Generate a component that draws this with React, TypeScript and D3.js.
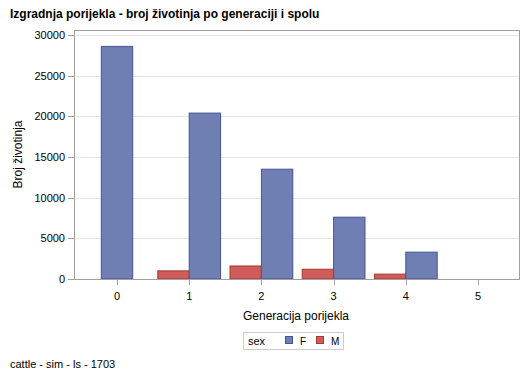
import React from "react";
import * as d3 from "d3";

const generations = ["0", "1", "2", "3", "4", "5"];
const femaleCounts = [28600, 20400, 13500, 7600, 3300, 0];
const maleCounts = [0, 1000, 1600, 1200, 600, 0];
const yTicks = [0, 5000, 10000, 15000, 20000, 25000, 30000];

const W = 529;
const H = 378;
const frame = { left: 74, right: 520, top: 30, bottom: 279 };
const font = "'Liberation Sans', Arial, sans-serif";

const F_FILL = "#6F7EB3";
const F_STROKE = "#445694";
const M_FILL = "#D05B5B";
const M_STROKE = "#A23A2E";

export default function App() {
  const x = d3.scalePoint<string>().domain(generations).range([117, 478]);
  const y = d3.scaleLinear().domain([0, 30000]).range([frame.bottom, 35]);
  const bw = 31.4;

  const bars: React.ReactNode[] = [];
  generations.forEach((g, i) => {
    const cx = x(g)!;
    const f = femaleCounts[i];
    const m = maleCounts[i];
    const hasF = f > 0;
    const hasM = m > 0;
    if (hasF && hasM) {
      bars.push(
        <rect key={"m" + g} x={cx - bw} y={y(m)} width={bw} height={y(0) - y(m)} fill={M_FILL} stroke={M_STROKE} strokeWidth={1} />
      );
      bars.push(
        <rect key={"f" + g} x={cx} y={y(f)} width={bw} height={y(0) - y(f)} fill={F_FILL} stroke={F_STROKE} strokeWidth={1} />
      );
    } else if (hasF) {
      bars.push(
        <rect key={"f" + g} x={cx - bw / 2} y={y(f)} width={bw} height={y(0) - y(f)} fill={F_FILL} stroke={F_STROKE} strokeWidth={1} />
      );
    } else if (hasM) {
      bars.push(
        <rect key={"m" + g} x={cx - bw / 2} y={y(m)} width={bw} height={y(0) - y(m)} fill={M_FILL} stroke={M_STROKE} strokeWidth={1} />
      );
    }
  });

  return (
    <svg width={W} height={H} style={{ position: "absolute", left: 0, top: 0 }} fontFamily={font}>
      <rect x={0} y={0} width={W} height={H} fill="#fff" />
      <text x={10} y={18} fontSize={12} fontWeight="bold" fill="#000">
        Izgradnja porijekla - broj životinja po generaciji i spolu
      </text>
      {/* gridlines */}
      {yTicks.filter((t) => t > 0).map((t) => (
        <line key={"g" + t} x1={frame.left} x2={frame.right} y1={Math.round(y(t)) + 0.5} y2={Math.round(y(t)) + 0.5} stroke="#E4E4E4" strokeWidth={1} />
      ))}
      {/* frame */}
      <rect x={frame.left + 0.5} y={frame.top + 0.5} width={frame.right - frame.left - 1} height={frame.bottom - frame.top} fill="none" stroke="#A0A0A0" strokeWidth={1} />
      {bars}
      {/* x axis line */}
      <line x1={68} x2={frame.right} y1={frame.bottom + 0.5} y2={frame.bottom + 0.5} stroke="#A0A0A0" />
      {/* y ticks */}
      {yTicks.map((t) => (
        <g key={"yt" + t}>
          <line x1={68} x2={frame.left} y1={Math.round(y(t)) + 0.5} y2={Math.round(y(t)) + 0.5} stroke="#A0A0A0" />
          <text x={65} y={y(t) + 4} fontSize={11} textAnchor="end" fill="#000">
            {t}
          </text>
        </g>
      ))}
      {/* x ticks */}
      {generations.map((g) => (
        <g key={"xt" + g}>
          <line x1={Math.round(x(g)!) + 0.5} x2={Math.round(x(g)!) + 0.5} y1={frame.bottom} y2={frame.bottom + 6} stroke="#A0A0A0" />
          <text x={x(g)!} y={frame.bottom + 21} fontSize={11} textAnchor="middle" fill="#000">
            {g}
          </text>
        </g>
      ))}
      <text x={296} y={320} fontSize={12} textAnchor="middle" fill="#000">
        Generacija porijekla
      </text>
      <text transform={`translate(22,${(frame.top + frame.bottom) / 2}) rotate(-90)`} fontSize={12} textAnchor="middle" fill="#000">
        Broj životinja
      </text>
      {/* legend */}
      <rect x={243.5} y={332.5} width={100} height={17} fill="#fff" stroke="#CCCCCC" />
      <text x={248} y={345} fontSize={11} fill="#000">sex</text>
      <rect x={285.5} y={336.5} width={7} height={7} fill={F_FILL} stroke={F_STROKE} />
      <text x={300} y={345} fontSize={10} fill="#000">F</text>
      <rect x={316.5} y={336.5} width={7} height={7} fill={M_FILL} stroke={M_STROKE} />
      <text x={331} y={345} fontSize={10} fill="#000">M</text>
      <text x={10} y={368} fontSize={11} fill="#000">
        cattle - sim - ls - 1703
      </text>
    </svg>
  );
}
